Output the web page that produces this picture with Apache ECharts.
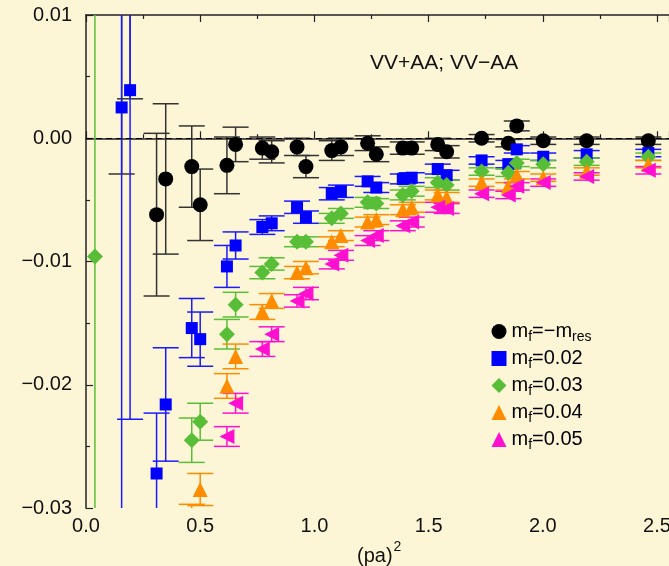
<!DOCTYPE html>
<html>
<head>
<meta charset="utf-8">
<script src="https://cdn.jsdelivr.net/npm/echarts@6/dist/echarts.min.js"></script>
<style>
  html, body { margin: 0; padding: 0; background: #fdf6d6; }
  #chart { width: 669px; height: 566px; }
</style>
</head>
<body>
<div id="chart"></div>
<script>
// (pa)^2 values, one list per quark mass
const xRes = [0.156, 0.193, 0.309, 0.349, 0.463, 0.500, 0.617, 0.655, 0.772, 0.813, 0.924, 0.963, 1.076, 1.116, 1.233, 1.271, 1.387, 1.426, 1.540, 1.579, 1.732, 1.849, 1.886, 2.002, 2.192, 2.462];
const yRes = [0.012, 0.013, -0.0062, -0.0033, -0.0023, -0.0054, -0.0022, -0.0005, -0.0008, -0.0011, -0.0007, -0.0023, -0.0010, -0.0007, -0.0004, -0.0013, -0.0008, -0.0008, -0.0005, -0.0011, 0.0000, -0.0004, 0.0010, -0.0002, -0.0002, -0.0002];
const eRes = [0.0149, 0.0098, 0.0066, 0.0061, 0.0033, 0.0029, 0.0023, 0.0014, 0.0009, 0.0009, 0.0007, 0.0009, 0.0008, 0.0007, 0.0006, 0.0006, 0.0005, 0.0005, 0.0005, 0.0005, 0.0003, 0.0003, 0.0004, 0.0003, 0.0003, 0.0003];

const x02 = [0.156, 0.193, 0.309, 0.349, 0.463, 0.500, 0.617, 0.655, 0.772, 0.813, 0.924, 0.963, 1.076, 1.116, 1.233, 1.271, 1.387, 1.426, 1.540, 1.579, 1.732, 1.849, 1.886, 2.002, 2.192, 2.462];
const y02 = [0.0025, 0.0039, -0.0272, -0.0216, -0.0154, -0.0163, -0.0104, -0.0087, -0.0072, -0.0069, -0.0056, -0.0064, -0.0045, -0.0043, -0.0035, -0.0040, -0.0033, -0.0032, -0.0025, -0.0030, -0.0018, -0.0021, -0.0009, -0.0015, -0.0013, -0.0012];
const e02 = [0.055, 0.0267, 0.0049, 0.0046, 0.0024, 0.0022, 0.0017, 0.0011, 0.0006, 0.0006, 0.0005, 0.0005, 0.0005, 0.0005, 0.0004, 0.0004, 0.0004, 0.0004, 0.0004, 0.0004, 0.0003, 0.0003, 0.0003, 0.0003, 0.0003, 0.0003];

const x03 = [0.039, 0.463, 0.500, 0.617, 0.655, 0.772, 0.813, 0.924, 0.963, 1.076, 1.116, 1.233, 1.271, 1.387, 1.426, 1.540, 1.579, 1.732, 1.849, 1.886, 2.002, 2.192, 2.462];
const y03 = [-0.0096, -0.0245, -0.0230, -0.0159, -0.0135, -0.0109, -0.0102, -0.0084, -0.0084, -0.0065, -0.0061, -0.0052, -0.0053, -0.0046, -0.0043, -0.0036, -0.0038, -0.0027, -0.0028, -0.0020, -0.0021, -0.0019, -0.0015];
const e03 = [0.06, 0.0018, 0.0015, 0.0012, 0.0010, 0.0005, 0.0005, 0.0004, 0.0004, 0.0004, 0.0004, 0.0004, 0.0004, 0.0004, 0.0004, 0.0004, 0.0004, 0.0003, 0.0003, 0.0003, 0.0003, 0.0003, 0.0003];

const x04 = [0.463, 0.500, 0.617, 0.655, 0.772, 0.813, 0.924, 0.963, 1.076, 1.116, 1.233, 1.271, 1.387, 1.426, 1.540, 1.579, 1.732, 1.849, 1.886, 2.002, 2.192, 2.462];
const y04 = [-0.0315, -0.0285, -0.0201, -0.0177, -0.0141, -0.0132, -0.0109, -0.0105, -0.0084, -0.0079, -0.0068, -0.0066, -0.0058, -0.0056, -0.0046, -0.0048, -0.0036, -0.0039, -0.0030, -0.0032, -0.0027, -0.0021];
const e04 = [0.0018, 0.0013, 0.0010, 0.0010, 0.0006, 0.0006, 0.0005, 0.0005, 0.0004, 0.0004, 0.0004, 0.0004, 0.0004, 0.0004, 0.0004, 0.0004, 0.0003, 0.0003, 0.0003, 0.0003, 0.0003, 0.0003];

const x05 = [0.617, 0.655, 0.772, 0.813, 0.924, 0.963, 1.076, 1.116, 1.233, 1.271, 1.387, 1.426, 1.540, 1.579, 1.732, 1.849, 1.886, 2.002, 2.192, 2.462];
const y05 = [-0.0242, -0.0215, -0.0171, -0.0159, -0.0132, -0.0126, -0.0102, -0.0095, -0.0083, -0.0079, -0.0071, -0.0068, -0.0056, -0.0057, -0.0045, -0.0046, -0.0039, -0.0036, -0.0031, -0.0026];
const e05 = [0.0008, 0.0008, 0.0006, 0.0006, 0.0005, 0.0005, 0.0004, 0.0004, 0.0004, 0.0004, 0.0004, 0.0004, 0.0004, 0.0004, 0.0003, 0.0003, 0.0003, 0.0003, 0.0003, 0.0003];

// legend entries: [main, subscript, main, subscript]
const legendParts = [
  ['m', 'f', '=\u2212m', 'res'],
  ['m', 'f', '=0.02', ''],
  ['m', 'f', '=0.03', ''],
  ['m', 'f', '=0.04', ''],
  ['m', 'f', '=0.05', '']
];
const seriesNames = ['mf=-mres', 'mf=0.02', 'mf=0.03', 'mf=0.04', 'mf=0.05'];
const xTicks = { min: 0, max: 2.5525, step: 0.5 };
const yTicks = { min: -0.03, max: 0.01, step: 0.01 };

const FONT = '"Liberation Sans", Arial, Helvetica, sans-serif';
const colors = ['#000000', '#0000ff', '#58be38', '#ff8c00', '#ff10d0'];
const barColors = ['#333333', '#1a1aff', '#58be38', '#ff8c00', '#ff10d0'];
const symbols = ['circle', 'rect', 'diamond', 'triangle', 'triangle'];
const symbolSizes = [15, 12, 16, [15, 15], [15, 15]];
const rotations = [0, 0, 0, 0, 90];

const groups = [
  [xRes, yRes, eRes],
  [x02, y02, e02],
  [x03, y03, e03],
  [x04, y04, e04],
  [x05, y05, e05]
];

function errorBarRenderer(color) {
  return function (params, api) {
    const x = api.value(0);
    const hi = api.coord([x, api.value(2)]);
    const lo = api.coord([x, api.value(1)]);
    const half = 13;
    const style = { stroke: color, lineWidth: 1.5 };
    return {
      type: 'group',
      children: [
        { type: 'line', shape: { x1: hi[0], y1: hi[1], x2: lo[0], y2: lo[1] }, style: style },
        { type: 'line', shape: { x1: hi[0] - half, y1: hi[1], x2: hi[0] + half, y2: hi[1] }, style: style },
        { type: 'line', shape: { x1: lo[0] - half, y1: lo[1], x2: lo[0] + half, y2: lo[1] }, style: style }
      ]
    };
  };
}

const series = [];
// dashed zero reference
series.push({
  type: 'line', data: [], z: 1, silent: true,
  markLine: {
    silent: true, symbol: 'none', animation: false,
    label: { show: false },
    lineStyle: { color: '#000', type: [6, 4], width: 1.2 },
    data: [{ yAxis: 0 }]
  }
});
groups.forEach(function (g, i) {
  const xs = g[0], ys = g[1], es = g[2];
  series.push({
    type: 'custom', name: seriesNames[i] + ' err', clip: true, z: 2,
    encode: { x: 0, y: [1, 2] },
    renderItem: errorBarRenderer(barColors[i]),
    data: xs.map(function (x, k) { return [x, ys[k] - es[k], ys[k] + es[k]]; })
  });
});
groups.forEach(function (g, i) {
  const xs = g[0], ys = g[1];
  series.push({
    type: 'scatter', name: seriesNames[i], clip: true, z: 3,
    symbol: symbols[i], symbolSize: symbolSizes[i], symbolRotate: rotations[i],
    itemStyle: { color: colors[i], opacity: 1 },
    data: xs.map(function (x, k) { return [x, ys[k]]; })
  });
});

function legendText(name) {
  const p = legendParts[seriesNames.indexOf(name)];
  let s = '{m|' + p[0] + '}{s|' + p[1] + '}{m|' + p[2] + '}';
  if (p[3]) s += '{s|' + p[3] + '}';
  return s;
}

function yLabel(v) {
  if (Math.abs(v) < 1e-9) return '0.00';
  return (v < 0 ? '\u2212' : '') + Math.abs(v).toFixed(2);
}

const axisLine = { show: true, lineStyle: { color: '#222', width: 1.5 } };
const tickStyle = { color: '#222', width: 1.2 };

const option = {
  animation: false,
  backgroundColor: '#fdf6d6',
  grid: { left: 86, top: 15, right: 0, height: 493, containLabel: false, outerBoundsMode: 'none' },
  xAxis: [
    {
      type: 'value', position: 'bottom', min: xTicks.min, max: xTicks.max, interval: xTicks.step,
      axisLine: axisLine,
      axisTick: { inside: true, length: 7, lineStyle: tickStyle },
      minorTick: { show: true, splitNumber: 2, length: 4, lineStyle: tickStyle },
      splitLine: { show: false },
      axisLabel: {
        margin: 8, fontSize: 20, fontFamily: FONT, color: '#111', showMaxLabel: false,
        formatter: function (v) { return v.toFixed(1); }
      }
    },
    {
      type: 'value', position: 'top', min: xTicks.min, max: xTicks.max, interval: xTicks.step,
      axisLine: axisLine,
      axisTick: { inside: true, length: 7, lineStyle: tickStyle },
      minorTick: { show: true, splitNumber: 2, length: 4, lineStyle: tickStyle },
      splitLine: { show: false },
      axisLabel: { show: false }
    }
  ],
  yAxis: {
    type: 'value', min: yTicks.min, max: yTicks.max, interval: yTicks.step,
    axisLine: axisLine,
    axisTick: { inside: true, length: 7, lineStyle: tickStyle },
    minorTick: { show: true, splitNumber: 2, length: 4, lineStyle: tickStyle },
    splitLine: { show: false },
    axisLabel: { margin: 14, fontSize: 20, fontFamily: FONT, color: '#111', formatter: yLabel }
  },
  legend: {
    data: seriesNames,
    orient: 'vertical', left: 491.5, top: 321, padding: 0,
    itemWidth: 15, itemHeight: 15, itemGap: 4,
    selectedMode: false,
    formatter: legendText,
    textStyle: {
      color: '#000',
      rich: {
        m: { fontSize: 20, fontFamily: FONT, color: '#000', lineHeight: 21, verticalAlign: 'top' },
        s: { fontSize: 14, fontFamily: FONT, color: '#000', lineHeight: 14, verticalAlign: 'top', padding: [9, 0, 0, 0] }
      }
    }
  },
  graphic: [
    {
      type: 'text', left: 370, top: 53, z: 10,
      style: { text: 'VV+AA; VV\u2212AA', fontSize: 21, fontFamily: FONT, fill: '#111' }
    },
    {
      type: 'text', left: 357, top: 540, z: 10,
      style: {
        text: '{b|(pa)}{p|2}',
        rich: {
          b: { fontSize: 20, fontFamily: FONT, fill: '#111', lineHeight: 21, verticalAlign: 'top', padding: [6, 0, 0, 0] },
          p: { fontSize: 14, fontFamily: FONT, fill: '#111', lineHeight: 14, verticalAlign: 'top', padding: [0, 0, 0, 1] }
        }
      }
    }
  ],
  series: series
};

const chart = echarts.init(document.getElementById('chart'), null, { renderer: 'canvas' });
chart.setOption(option);
</script>
</body>
</html>
